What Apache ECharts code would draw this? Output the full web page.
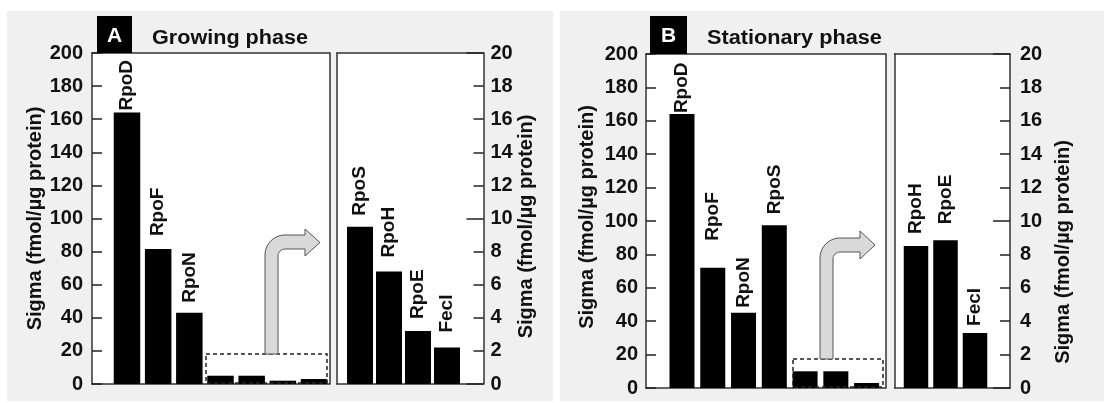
<!DOCTYPE html>
<html>
<head>
<meta charset="utf-8">
<script src="https://cdn.jsdelivr.net/npm/echarts@6/dist/echarts.min.js"></script>
<style>
html,body{margin:0;padding:0;background:#fff;}
#wrap{position:relative;width:1104px;height:403px;background:#fff;}
.panel{position:absolute;background:#f0f0f0;}
#c{position:absolute;left:0;top:0;width:1104px;height:403px;}
</style>
</head>
<body>
<div id="wrap">
  <div class="panel" style="left:7px;top:11px;width:546px;height:390px;"></div>
  <div class="panel" style="left:560px;top:11px;width:544px;height:390px;"></div>
  <div id="c"></div>
</div>
<script>
// ---------- data ----------
const axisTitle = 'Sigma (fmol/µg protein)';
const panelLetters = ['A', 'B'];
const panelTitles = ['Growing phase', 'Stationary phase'];

// Growing phase (A)
const growMainCats = ['RpoD', 'RpoF', 'RpoN'];
const growMainVals = [164, 81.5, 43];
const growMinorCats = ['RpoS', 'RpoH', 'RpoE', 'FecI'];
const growMinorValsOnMainScale = [5, 5, 2, 3];
const growMinorVals = [9.5, 6.8, 3.2, 2.2];

// Stationary phase (B)
const statMainCats = ['RpoD', 'RpoF', 'RpoN', 'RpoS'];
const statMainVals = [164, 72, 45, 97.5];
const statMinorCats = ['RpoH', 'RpoE', 'FecI'];
const statMinorValsOnMainScale = [10, 10, 3];
const statMinorVals = [8.5, 8.85, 3.3];

// axes
const mainAxisMax = 200, mainAxisStep = 20;
const minorAxisMax = 20, minorAxisStep = 2, minorAxisLongStep = 10;

// ---------- layout / style (not data) ----------
const FONT = '"Liberation Sans", Arial, sans-serif';
const TXT = '#111';
const FRAME = '#333';
const growMainLabelGap = [2, 13, 10];
const growMinorLabelGap = [11, 14, 12, 15];
const statMainLabelGap = [1, 27, 5, 11];
const statMinorLabelGap = [12, 16, 7];

const panels = [
  { frame: {left: 92, top: 53, width: 237.5, height: 331}, bars: {left: 111.4, width: 218.2},
    max: mainAxisMax, step: mainAxisStep, side: 'left', nameGap: 47, nameShift: 0, labelMargin: 9, barWidth: 26.5,
    cats: growMainCats.concat(growMinorCats), vals: growMainVals.concat(growMinorValsOnMainScale),
    labelled: growMainCats.length, gaps: growMainLabelGap },
  { frame: {left: 337, top: 53, width: 146.5, height: 331}, bars: {left: 345.5, width: 116},
    max: minorAxisMax, step: minorAxisStep, side: 'right', nameGap: 27, nameShift: 8, labelMargin: 7, barWidth: 26,
    cats: growMinorCats, vals: growMinorVals, labelled: growMinorCats.length, gaps: growMinorLabelGap },
  { frame: {left: 646, top: 54, width: 239.5, height: 334}, bars: {left: 666.6, width: 215.4},
    max: mainAxisMax, step: mainAxisStep, side: 'left', nameGap: 49, nameShift: -4, labelMargin: 8, barWidth: 25,
    cats: statMainCats.concat(statMinorCats), vals: statMainVals.concat(statMinorValsOnMainScale),
    labelled: statMainCats.length, gaps: statMainLabelGap },
  { frame: {left: 894.5, top: 54, width: 115.5, height: 334}, bars: {left: 901.25, width: 88.5},
    max: minorAxisMax, step: minorAxisStep, side: 'right', nameGap: 43, nameShift: 31, labelMargin: 10, barWidth: 24.5,
    cats: statMinorCats, vals: statMinorVals, labelled: statMinorCats.length, gaps: statMinorLabelGap }
];

function frameLine() { return { show: true, onZero: false, lineStyle: { color: FRAME, width: 1.5 } }; }
function off() { return { show: false }; }
const grid = [], xAxis = [], yAxis = [], series = [];
panels.forEach(function (p) {
  const gFrame = grid.length;
  grid.push({ left: p.frame.left, top: p.frame.top, width: p.frame.width, height: p.frame.height,
    show: true, backgroundColor: '#fff', borderWidth: 0 });
  const gBars = grid.length;
  grid.push({ left: p.bars.left, top: p.frame.top, width: p.bars.width, height: p.frame.height, show: false });

  ['bottom', 'top'].forEach(function (pos) {
    xAxis.push({ type: 'value', gridIndex: gFrame, min: 0, max: 1, position: pos,
      axisLine: frameLine(), axisTick: off(), axisLabel: off(), splitLine: off() });
  });
  const xB = xAxis.length;
  xAxis.push({ type: 'category', gridIndex: gBars, data: p.cats, boundaryGap: true,
    axisLine: { show: false, onZero: false }, axisTick: off(), axisLabel: off(), splitLine: off() });

  const pad = p.nameShift >= 0 ? [0, 2 * p.nameShift, 0, 0] : [0, 0, 0, -2 * p.nameShift];
  yAxis.push({
    type: 'value', gridIndex: gFrame, min: 0, max: p.max, interval: p.step, position: p.side,
    axisLine: frameLine(),
    axisTick: { show: true, inside: true, length: 10, lineStyle: { color: '#222', width: 1.5 } },
    splitLine: off(),
    axisLabel: { margin: p.labelMargin, fontSize: 20, fontWeight: 'bold', color: TXT, fontFamily: FONT },
    name: axisTitle, nameLocation: 'middle', nameRotate: 90, nameGap: p.nameGap,
    nameTextStyle: { fontSize: 20, fontWeight: 'bold', color: TXT, fontFamily: FONT, padding: pad }
  });
  yAxis.push({ type: 'value', gridIndex: gFrame, min: 0, max: p.max, position: p.side === 'left' ? 'right' : 'left',
    axisLine: frameLine(), axisTick: off(), axisLabel: off(), splitLine: off() });
  if (p.side === 'right') {
    yAxis.push({
      type: 'value', gridIndex: gFrame, min: 0, max: p.max, interval: minorAxisLongStep, position: 'right',
      axisLine: { show: false, onZero: false }, axisLabel: off(), splitLine: off(),
      axisTick: { show: true, inside: true, length: 17, lineStyle: { color: '#222', width: 1.5 } }
    });
  }
  const yB = yAxis.length;
  yAxis.push({ type: 'value', gridIndex: gBars, min: 0, max: p.max,
    axisLine: { show: false, onZero: false }, axisTick: off(), axisLabel: off(), splitLine: off() });

  series.push({
    type: 'bar', xAxisIndex: xB, yAxisIndex: yB, barWidth: p.barWidth,
    itemStyle: { color: '#000' },
    data: p.vals.map(function (v, i) {
      return {
        value: v,
        label: {
          show: i < p.labelled, position: 'top', distance: i < p.labelled ? p.gaps[i] : 0,
          rotate: 90, align: 'left', verticalAlign: 'middle',
          formatter: '{b}', fontSize: 19, fontWeight: 'bold', color: TXT, fontFamily: FONT
        }
      };
    })
  });
});

function arcPts(cx, cy, r, a0, a1, n) {
  const pts = [];
  for (let k = 0; k <= n; k++) {
    const a = a0 + (a1 - a0) * k / n;
    pts.push([cx + r * Math.cos(a), cy + r * Math.sin(a)]);
  }
  return pts;
}
function arrowPts(a) {
  const R = a.R, w = a.xR - a.xL, r = Math.max(R - w, 4);
  let pts = [[a.xL, a.yB]];
  pts = pts.concat(arcPts(a.xL + R, a.yT + R, R, Math.PI, 1.5 * Math.PI, 10));
  pts.push([a.hx, a.yT], [a.hx, a.hTop], [a.tx, a.ty], [a.hx, a.hBot], [a.hx, a.yb]);
  pts = pts.concat(arcPts(a.xR + r, a.yb + r, r, 1.5 * Math.PI, Math.PI, 8));
  pts.push([a.xR, a.yB]);
  return pts;
}

const graphic = [
  { type: 'rect', z: 50, shape: { x: 97, y: 16, width: 35, height: 37 }, style: { fill: '#000' } },
  { type: 'text', z: 51, x: 114.5, y: 36, style: { text: panelLetters[0], font: 'bold 21px ' + FONT, fill: '#fff', textAlign: 'center', textVerticalAlign: 'middle' } },
  { type: 'rect', z: 50, shape: { x: 650, y: 16, width: 37, height: 38 }, style: { fill: '#000' } },
  { type: 'text', z: 51, x: 668.5, y: 36, style: { text: panelLetters[1], font: 'bold 21px ' + FONT, fill: '#fff', textAlign: 'center', textVerticalAlign: 'middle' } },
  { type: 'text', z: 51, x: 152, y: 38, scaleX: 1.08, style: { text: panelTitles[0], font: 'bold 20px ' + FONT, fill: TXT, textAlign: 'left', textVerticalAlign: 'middle' } },
  { type: 'text', z: 51, x: 707, y: 38, scaleX: 1.085, style: { text: panelTitles[1], font: 'bold 20px ' + FONT, fill: TXT, textAlign: 'left', textVerticalAlign: 'middle' } },
  { type: 'rect', z: 60, shape: { x: 206, y: 354, width: 121, height: 29 }, style: { fill: null, stroke: '#222', lineWidth: 1.5, lineDash: [4, 3] } },
  { type: 'rect', z: 60, shape: { x: 793, y: 359, width: 90, height: 28 }, style: { fill: null, stroke: '#222', lineWidth: 1.5, lineDash: [4, 3] } },
  { type: 'polygon', z: 61, shape: { points: arrowPts({ xL: 265, xR: 278, yB: 354, yT: 235, yb: 249, hx: 305, hTop: 229, hBot: 256, tx: 320, ty: 242.5, R: 20 }) },
    style: { fill: '#d9d9d9', stroke: '#555', lineWidth: 1 } },
  { type: 'polygon', z: 61, shape: { points: arrowPts({ xL: 820, xR: 833, yB: 359, yT: 238, yb: 252, hx: 860, hTop: 231, hBot: 259, tx: 875, ty: 245, R: 20 }) },
    style: { fill: '#d9d9d9', stroke: '#555', lineWidth: 1 } }
];

const chart = echarts.init(document.getElementById('c'), null, { renderer: 'canvas' });
chart.setOption({
  backgroundColor: 'transparent',
  animation: false,
  grid: grid, xAxis: xAxis, yAxis: yAxis, series: series, graphic: graphic
});
</script>
</body>
</html>
